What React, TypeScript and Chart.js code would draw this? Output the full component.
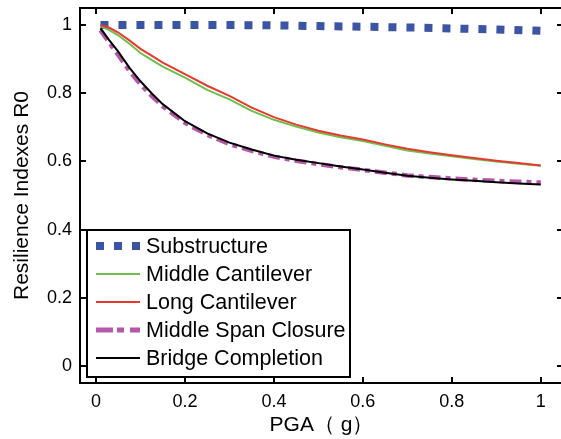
import React, { useEffect, useRef } from 'react';
import { Chart, registerables } from 'chart.js';

Chart.register(...registerables);

// ---------- data ----------
const pga = [0.01, 0.03, 0.05, 0.075, 0.1, 0.125, 0.15, 0.2, 0.25, 0.3, 0.35, 0.4, 0.45, 0.5, 0.55, 0.6, 0.65, 0.7, 0.75, 0.8, 0.85, 0.9, 0.95, 1.0];
const subPga = [0.01, 0.2, 0.3, 0.4, 0.5, 0.6, 0.7, 0.8, 0.9, 1.0];
const substructure = [1.0, 1.0, 1.0, 0.999, 0.997, 0.995, 0.993, 0.99, 0.987, 0.983];
const middleCantilever = [0.996, 0.985, 0.97, 0.945, 0.918, 0.898, 0.878, 0.846, 0.81, 0.782, 0.748, 0.722, 0.702, 0.685, 0.671, 0.66, 0.646, 0.632, 0.623, 0.615, 0.607, 0.6, 0.593, 0.587];
const longCantilever = [1.0, 0.992, 0.978, 0.955, 0.93, 0.91, 0.89, 0.856, 0.822, 0.792, 0.758, 0.73, 0.708, 0.69, 0.676, 0.664, 0.65, 0.637, 0.627, 0.618, 0.61, 0.602, 0.595, 0.588];
const middleSpanClosure = [0.985, 0.948, 0.912, 0.866, 0.826, 0.792, 0.762, 0.713, 0.678, 0.651, 0.631, 0.614, 0.602, 0.592, 0.583, 0.575, 0.567, 0.559, 0.554, 0.55, 0.546, 0.543, 0.54, 0.538];
const bridgeCompletion = [0.99, 0.955, 0.922, 0.875, 0.835, 0.8, 0.768, 0.718, 0.682, 0.655, 0.635, 0.617, 0.605, 0.595, 0.585, 0.576, 0.567, 0.558, 0.552, 0.547, 0.543, 0.539, 0.535, 0.532];
const xTicks = [0, 0.2, 0.4, 0.6, 0.8, 1];
const yTicks = [0, 0.2, 0.4, 0.6, 0.8, 1];
const seriesNames = ['Substructure', 'Middle Cantilever', 'Long Cantilever', 'Middle Span Closure', 'Bridge Completion'];
const xTitle = 'PGA（ g）';
const yTitle = 'Resilience Indexes R0';

// ---------- styles ----------
const FONT = '"Liberation Sans", Arial, sans-serif';
const styles = [
  { color: '#3B54A4', width: 8, dash: [8, 10], legendWidth: 8 },
  { color: '#6CC04A', width: 2, dash: [] as number[], legendWidth: 2 },
  { color: '#E8392F', width: 2, dash: [] as number[], legendWidth: 2 },
  { color: '#B657AC', width: 4.5, dash: [12, 5, 5, 5], legendWidth: 5 },
  { color: '#000000', width: 2, dash: [] as number[], legendWidth: 2 },
];
const legendDash = [[8, 10], [], [], [17, 4, 7, 6], []];

const toPts = (xs: number[], ys: number[]) => xs.map((x, i) => ({ x, y: ys[i] }));

const framePlugin = {
  id: 'frame',
  afterDatasetsDraw(chart: any) {
    const { ctx, chartArea, scales } = chart;
    const { left, right, top, bottom } = chartArea;
    const x = scales.x;
    const y = scales.y;
    ctx.save();
    ctx.strokeStyle = '#000';
    ctx.lineWidth = 2;
    ctx.setLineDash([]);
    ctx.strokeRect(left, top, right - left, bottom - top);
    ctx.beginPath();
    x.ticks.forEach((t: any) => {
      const px = Math.round(x.getPixelForValue(t.value));
      ctx.moveTo(px, bottom);
      ctx.lineTo(px, bottom - 6);
      ctx.moveTo(px, top);
      ctx.lineTo(px, top + 6);
    });
    y.ticks.forEach((t: any) => {
      const py = Math.round(y.getPixelForValue(t.value));
      ctx.moveTo(left, py);
      ctx.lineTo(left + 6, py);
      ctx.moveTo(right, py);
      ctx.lineTo(right - 6, py);
    });
    ctx.stroke();

    // legend box
    const bx = left + 7;
    const by = top + 222;
    const bw = 263;
    const bh = 147;
    ctx.fillStyle = '#fff';
    ctx.fillRect(bx, by, bw, bh);
    ctx.lineWidth = 2;
    ctx.strokeRect(bx, by, bw, bh);
    ctx.font = '21.5px ' + FONT;
    ctx.textBaseline = 'middle';
    ctx.textAlign = 'left';
    seriesNames.forEach((name, i) => {
      const cy = by + 16 + 28 * i;
      const st = styles[i];
      ctx.beginPath();
      ctx.strokeStyle = st.color;
      ctx.lineWidth = st.legendWidth;
      ctx.lineCap = 'butt';
      ctx.setLineDash(legendDash[i]);
      ctx.moveTo(bx + 9, cy);
      ctx.lineTo(bx + 53, cy);
      ctx.stroke();
      ctx.setLineDash([]);
      ctx.fillStyle = '#000';
      ctx.fillText(name, bx + 59, cy + 1);
    });
    ctx.restore();
  },
};

export default function App() {
  const ref = useRef<HTMLCanvasElement | null>(null);
  useEffect(() => {
    if (!ref.current) return;
    const seriesData = [
      toPts(subPga, substructure),
      toPts(pga, middleCantilever),
      toPts(pga, longCantilever),
      toPts(pga, middleSpanClosure),
      toPts(pga, bridgeCompletion),
    ];
    const drawOrder = [4, 3, 2, 1, 0];
    const chart = new Chart(ref.current, {
      type: 'line',
      data: {
        datasets: seriesNames.map((name, i) => ({
          label: name,
          data: seriesData[i],
          borderColor: styles[i].color,
          backgroundColor: styles[i].color,
          borderWidth: styles[i].width,
          borderDash: styles[i].dash,
          borderCapStyle: 'butt',
          pointRadius: 0,
          tension: 0,
          fill: false,
          order: drawOrder[i],
        })),
      },
      options: {
        animation: false,
        responsive: false,
        devicePixelRatio: 1,
        layout: { padding: { top: 8, right: 12, left: 0, bottom: 0 } },
        plugins: { legend: { display: false }, tooltip: { enabled: false } },
        scales: {
          x: {
            type: 'linear',
            min: -0.036,
            max: 1.05,
            grid: { display: false, drawTicks: false },
            border: { display: false },
            afterBuildTicks: (s: any) => { s.ticks = xTicks.map((v) => ({ value: v })); },
            afterFit: (s: any) => { s.height = 56; s.paddingLeft = 0; s.paddingRight = 0; },
            ticks: {
              autoSkip: false,
              maxRotation: 0,
              padding: 8,
              color: '#000',
              font: { family: FONT, size: 18 },
              callback: (v: any) => String(v),
            },
            title: {
              display: true,
              text: xTitle,
              color: '#000',
              font: { family: FONT, size: 21, lineHeight: 1.2 },
              padding: { top: 0, bottom: 1 },
            },
          },
          y: {
            type: 'linear',
            min: -0.05,
            max: 1.05,
            grid: { display: false, drawTicks: false },
            border: { display: false },
            afterBuildTicks: (s: any) => { s.ticks = yTicks.map((v) => ({ value: v })); },
            afterFit: (s: any) => { s.width = 80; s.paddingTop = 0; s.paddingBottom = 0; },
            ticks: {
              padding: 8,
              color: '#000',
              font: { family: FONT, size: 18 },
              callback: (v: any) => String(v),
            },
            title: {
              display: true,
              text: yTitle,
              color: '#000',
              font: { family: FONT, size: 21, lineHeight: 1.2 },
              padding: { top: 10, bottom: 0 },
            },
          },
        },
      },
      plugins: [framePlugin],
    } as any);
    return () => chart.destroy();
  }, []);
  return (
    <div style={{ position: 'fixed', left: 0, top: 0, width: 561, height: 439, overflow: 'hidden', background: '#fff' }}>
      <canvas ref={ref} width={575} height={439} style={{ width: 575, height: 439, display: 'block' }} />
    </div>
  );
}
